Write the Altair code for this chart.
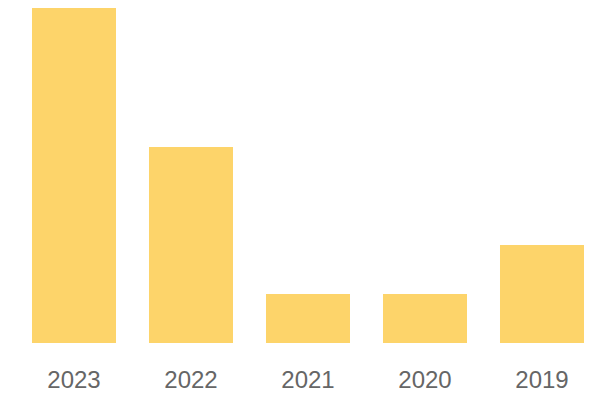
import altair as alt
import pandas as pd

years = ["2023", "2022", "2021", "2020", "2019"]
values = [7, 4, 1, 1, 2]

df = pd.DataFrame({"year": years, "value": values})

chart = (
    alt.Chart(df)
    .mark_bar(color="#FDD46A", clip=True)
    .encode(
        x=alt.X(
            "year:N",
            sort=years,
            title=None,
            scale=alt.Scale(paddingInner=0.282, paddingOuter=0.141, range=[0, 585]),
            axis=alt.Axis(
                labelAngle=0,
                domain=False,
                ticks=False,
                grid=False,
                labelPadding=25,
                labelFontSize=24,
                labelFont="Liberation Sans",
                labelColor="#666666",
            ),
        ),
        y=alt.Y(
            "value:Q",
            title=None,
            scale=alt.Scale(domain=[0, 6.837], nice=False),
            axis=None,
        ),
    )
    .properties(
        width=576,
        height=335,
        autosize=alt.AutoSizeParams(type="none"),
        padding={"left": 7.5, "top": 0, "right": 0, "bottom": 48},
    )
    .configure_view(stroke=None)
)

chart.save("out.html", embed_options={"renderer": "svg", "actions": False})
